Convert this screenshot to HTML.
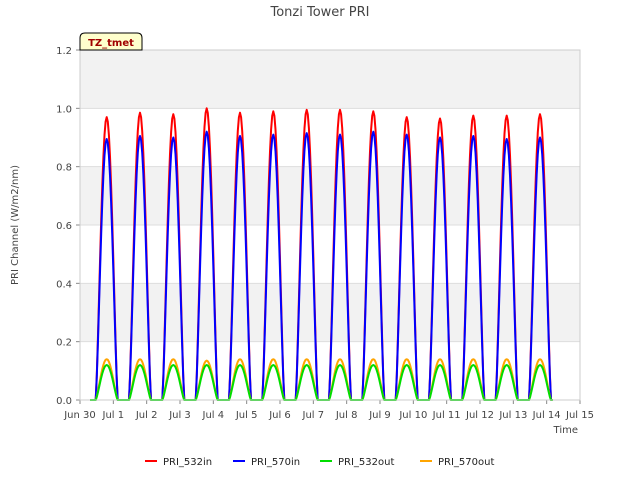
<!DOCTYPE html>
<html><head><meta charset="utf-8"><style>
body{margin:0;background:#fff;font-family:"DejaVu Sans","Liberation Sans",sans-serif;}
</style></head><body>
<svg id="c" width="640" height="480" xmlns="http://www.w3.org/2000/svg" font-family="DejaVu Sans, Liberation Sans, sans-serif">
<text x="320" y="16" text-anchor="middle" font-size="13" fill="#444">Tonzi Tower PRI</text>
<g id="bands"></g>
<g id="grid"></g>
<g id="series"></g>
<g id="axes"></g>
<text x="18" y="225" transform="rotate(-90 18 225)" text-anchor="middle" font-size="10" fill="#444">PRI Channel (W/m2/nm)</text>
<text x="578" y="433" text-anchor="end" font-size="10" fill="#444">Time</text>
<g>
<path d="M80,50 L80,38 Q80,33 85,33 L137,33 Q142,33 142,38 L142,50 Z" fill="#ffffcc" stroke="#000" stroke-width="1"/>
<text x="111" y="46" text-anchor="middle" font-size="10" font-weight="bold" fill="#a00000">TZ_tmet</text>
</g>
<g id="legend"></g>
</svg>
<script>
const days=["Jun 30","Jul 1","Jul 2","Jul 3","Jul 4","Jul 5","Jul 6","Jul 7","Jul 8","Jul 9","Jul 10","Jul 11","Jul 12","Jul 13","Jul 14","Jul 15"];
const yTicks=[0.0,0.2,0.4,0.6,0.8,1.0,1.2];
const seriesNames=["PRI_532in","PRI_570in","PRI_532out","PRI_570out"];
const seriesColors=["#ff0000","#0000ff","#00dd00","#ffa500"];
const peak532in=[0.97,0.985,0.98,1.0,0.985,0.99,0.995,0.995,0.99,0.97,0.965,0.975,0.975,0.98];
const peak570in=[0.895,0.905,0.90,0.92,0.905,0.91,0.915,0.91,0.92,0.91,0.90,0.905,0.895,0.90];
const peak532out=[0.12,0.12,0.12,0.12,0.12,0.12,0.12,0.12,0.12,0.12,0.12,0.12,0.12,0.12];
const peak570out=[0.14,0.14,0.14,0.135,0.14,0.14,0.14,0.14,0.14,0.14,0.14,0.14,0.14,0.14];
const allPeaks=[peak532in,peak570in,peak570out,peak532out];
const drawOrder=[0,1,3,2];
const X0=80,X1=580,Y0=400,Y1=50;
const xs=d=>X0+d*(X1-X0)/15;
const ys=v=>Y0-v*(Y0-Y1)/1.2;
const NS="http://www.w3.org/2000/svg";
function mk(tag,attrs,parent){const e=document.createElementNS(NS,tag);for(const k in attrs)e.setAttribute(k,attrs[k]);parent.appendChild(e);return e;}
const bands=document.getElementById('bands'),grid=document.getElementById('grid'),axes=document.getElementById('axes'),ser=document.getElementById('series'),leg=document.getElementById('legend');
mk('rect',{x:X0,y:Y1,width:X1-X0,height:Y0-Y1,fill:'#fff'},bands);
for(let i=0;i<yTicks.length-1;i+=2){
 const r=mk('rect',{x:X0,y:ys(yTicks[i+1]+0.2),width:X1-X0,height:ys(yTicks[i+1])-ys(yTicks[i+1]+0.2),fill:'#f2f2f2'},bands);
 
 
}
yTicks.forEach(v=>{
 const l=mk('line',{x1:X0,x2:X1,y1:ys(v),y2:ys(v),stroke:'#ddd'},grid);
 
 
 const t=mk('text',{x:X0-8,y:ys(v)+4,'text-anchor':'end','font-size':10,fill:'#444'},axes);
 t.textContent=v.toFixed(1);
 
 
 mk('line',{x1:X0-4,x2:X0,y1:ys(v),y2:ys(v),stroke:'#888'},axes);
});
days.forEach((d,i)=>{
 mk('line',{x1:xs(i),x2:xs(i),y1:Y0,y2:Y0+4,stroke:'#888'},axes);
 const t=mk('text',{x:xs(i),y:Y0+18,'text-anchor':'middle','font-size':10,fill:'#444'},axes);
 t.textContent=d;
 
 
});
mk('rect',{x:X0,y:Y1,width:X1-X0,height:Y0-Y1,fill:'none',stroke:'#ccc'},axes);
const seriesList=[peak532in,peak570in,peak532out,peak570out];
[0,1,3,2].forEach(si=>{
 const pk=seriesList[si];
 let d='M'+xs(0.3).toFixed(1)+','+ys(0).toFixed(1);
 pk.forEach((p,di)=>{
  const c=di+0.8,hw=0.33;
  d+=' L'+xs(c-hw).toFixed(1)+','+ys(0).toFixed(1);
  for(let k=0;k<=20;k++){const f=k/20;const t=c-hw+2*hw*f;const v=p*Math.pow(Math.sin(Math.PI*f),1.3);d+=' L'+xs(t).toFixed(1)+','+ys(v).toFixed(1);}
  d+=' L'+xs(c+hw+0.05).toFixed(1)+','+ys(0).toFixed(1);
 });
 const path=mk('path',{d:d,fill:'none',stroke:seriesColors[si],'stroke-width':2,'stroke-linejoin':'round'},ser);
 
 
});
const lx=[145,233,320,420];
seriesNames.forEach((n,i)=>{
 const g=mk('g',{},leg);
 
 
 mk('line',{x1:lx[i],x2:lx[i]+12,y1:461,y2:461,stroke:seriesColors[i],'stroke-width':2},g);
 const t=mk('text',{x:lx[i]+18,y:465,'font-size':10,fill:'#222'},g);
 t.textContent=n;
});
</script>
</body></html>
